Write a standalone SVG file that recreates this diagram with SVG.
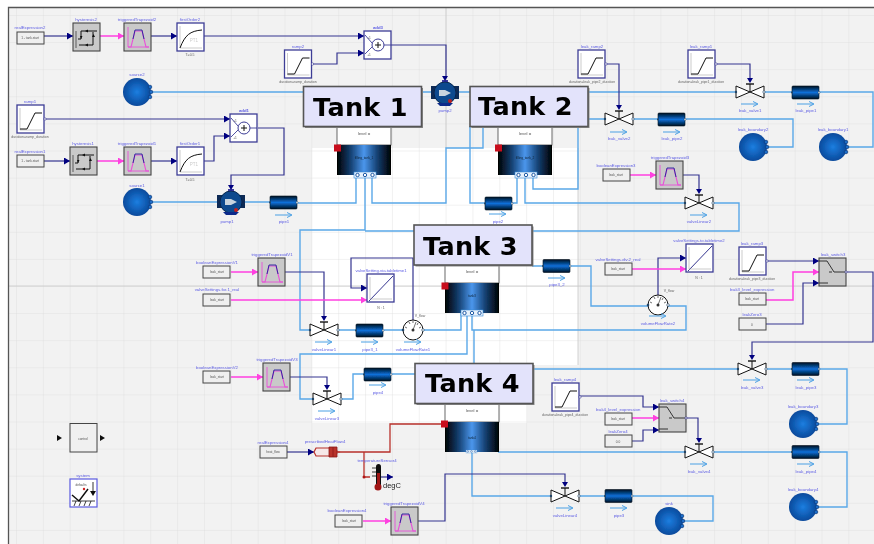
<svg xmlns="http://www.w3.org/2000/svg" width="874" height="544" viewBox="0 0 874 544">
<style>
text{font-family:"Liberation Sans",Arial,sans-serif}
.l{fill:#5c5ce4;font-size:4.300px;text-anchor:middle}
.s{fill:#666;font-size:3.500px;text-anchor:middle}
.v{fill:#555;font-size:3.200px;text-anchor:middle}
.t{fill:#000;font-family:"DejaVu Sans",Verdana,sans-serif;font-weight:bold;font-size:25.500px;letter-spacing:.3px}
.lab{fill:#e3e3fb;stroke:#555;stroke-width:1.6}
.shd{fill:#8a8a8a}
.f{fill:none;stroke:#5aa8e8;stroke-width:1.4}
.sig{fill:none;stroke:#34348f;stroke-width:1.2;marker-end:url(#hn)}
.sn{fill:none;stroke:#34348f;stroke-width:1.2}
.p{fill:none;stroke:#ff3fe0;stroke-width:1.5;marker-end:url(#hp)}
.h{fill:none;stroke:#b8302a;stroke-width:1.3}
.box{fill:#fff;stroke:#3c3c96;stroke-width:1.3}
.gb{fill:#c9c9c9;stroke:#444;stroke-width:1.1}
.ex{fill:#efefef;stroke:#444;stroke-width:1}
</style>
<defs>
<pattern id="grid" width="26.85" height="27.1" patternUnits="userSpaceOnUse" x="16" y="15">
<path d="M0,0V27.1M0,0H26.85" fill="none" stroke="#dedede" stroke-width=".8"/>
</pattern>
<filter id="soft" x="0" y="0" width="100%" height="100%"><feGaussianBlur stdDeviation=".3"/></filter>
<marker id="hn" markerUnits="userSpaceOnUse" markerWidth="7" markerHeight="7" refX="6" refY="3.500" orient="auto"><path d="M0,0L6,3.500L0,7Z" fill="#000080"/></marker>
<marker id="hp" markerUnits="userSpaceOnUse" markerWidth="7" markerHeight="7" refX="6" refY="3.500" orient="auto"><path d="M0,0L6,3.500L0,7Z" fill="#ff3fe0"/></marker>
<linearGradient id="pg" x1="0" y1="0" x2="0" y2="1"><stop offset="0" stop-color="#001020"/><stop offset=".5" stop-color="#0a6fd8"/><stop offset="1" stop-color="#001020"/></linearGradient>
<linearGradient id="tg" x1="0" y1="0" x2="1" y2="0"><stop offset="0" stop-color="#000"/><stop offset=".25" stop-color="#143f70"/><stop offset=".5" stop-color="#4a96ec"/><stop offset=".75" stop-color="#143f70"/><stop offset="1" stop-color="#000"/></linearGradient>
<radialGradient id="bg"><stop offset="0" stop-color="#1c7ee0"/><stop offset="1" stop-color="#0a4a9c"/></radialGradient>
<g id="ramp"><rect class="box" width="27" height="28"/><path d="M3,3V25H25" fill="none" stroke="#aaa" stroke-width=".6"/><path d="M3,24H10L18,8H25" fill="none" stroke="#111" stroke-width="1"/><circle cx="28" cy="14" r="1.200" fill="#fff" stroke="#34348f" stroke-width=".6"/></g>
<g id="first"><rect class="box" width="27" height="28"/><path d="M3,3V25H25" fill="none" stroke="#aaa" stroke-width=".6"/><path d="M3,25C8,12 13,8 25,7" fill="none" stroke="#111" stroke-width="1"/><text x="17" y="19" font-size="4.500" fill="#ccc" text-anchor="middle">PT1</text></g>
<g id="trap"><rect class="gb" width="27" height="28"/><path d="M4,4V24H25" fill="none" stroke="#e850d8" stroke-width=".9"/><path d="M4,24H7L11,8H18L22,24H25" fill="none" stroke="#e850d8" stroke-width="1.100"/><path d="M9,16L11,7H18L20,16" fill="none" stroke="#20209a" stroke-width=".9"/></g>
<g id="hyst"><rect class="gb" width="27" height="28"/><path d="M5,16H8V8H24M6,22H20V9" fill="none" stroke="#111" stroke-width="1"/><path d="M3,8V25" stroke="#111" stroke-width=".6"/><path d="M12,8l3,-1.500v3zM12,22l3,-1.500v3zM7,13l1,3 1.500,-3zM19,14l1.500,-3 1.500,3z" fill="#111"/></g>
<g id="add"><rect class="box" width="27" height="28"/><path d="M1,4L8,12M1,23L8,16M20,14H27" stroke="#3c3c96" stroke-width=".9"/><circle cx="14" cy="14" r="6" fill="#fff" stroke="#3c3c96" stroke-width="1"/><path d="M11,14H17M14,11V17" stroke="#111" stroke-width="1"/><text x="5" y="8" class="v">+1</text><text x="5" y="25" class="v">+1</text></g>
<rect id="ex" class="ex" width="27" height="12"/>
<g id="table"><rect class="box" width="27" height="28"/><path d="M2,27L26,2" stroke="#34348f" stroke-width="1"/><path d="M3,3V25H25" fill="none" stroke="#aaa" stroke-width=".6"/></g>
<g id="valve"><path d="M-14,-6L0,0L-14,6ZM14,-6L0,0L14,6Z" fill="#fff" stroke="#111" stroke-width="1"/><path d="M0,0V-8" stroke="#111" stroke-width="1"/><path d="M-4,-8H4" stroke="#111" stroke-width="1.400"/><path d="M-3,-14H3L0,-9Z" fill="#000080"/><circle cx="-14" cy="0" r="1.200" fill="#246"/><circle cx="14" cy="0" r="1.200" fill="#fff" stroke="#246" stroke-width=".6"/></g>
<g id="pipe"><rect width="27" height="13" rx="1" fill="url(#pg)" stroke="#001020" stroke-width=".6"/><circle cx="27" cy="6.500" r="1" fill="#fff" stroke="#246" stroke-width=".5"/><circle cx="0" cy="6.500" r="1" fill="#246"/></g>
<g id="bound"><circle r="14" fill="url(#bg)"/><g fill="#1c6cc8" stroke="#0a3a7a" stroke-width=".7"><circle cx="13" cy="-5" r="1.800"/><circle cx="14" cy="0" r="1.800"/><circle cx="13" cy="5" r="1.800"/></g></g>
<g id="pump"><rect x="-14" y="-7" width="28" height="13" fill="#0b2a55"/><circle r="11" fill="#0c4a8e" stroke="#06264e" stroke-width="1"/><path d="M-6,-3H0L6,0L0,3H-6Z" fill="#c8d4de"/><path d="M-8,10H8L5,13H-5Z" fill="#0a2a8a"/><circle cx="5" cy="8" r="2" fill="#c02020"/><path d="M-3,-17H3L0,-12Z" fill="#000080"/><path d="M-3,-12H3" stroke="#000080" stroke-width="1.500"/></g>
<g id="tank"><rect width="54" height="19" fill="#fff" stroke="#444" stroke-width=".8"/><text x="27" y="9" class="v" style="font-size:4.300px">level =</text><rect y="19" width="54" height="30" fill="url(#tg)"/></g>
<g id="flow"><path d="M-9,0H7" stroke="#4aa0e4" stroke-width="1"/><path d="M3,-2.500L8,0L3,2.500" fill="none" stroke="#4aa0e4" stroke-width="1"/></g>
<g id="switch"><rect class="gb" width="27" height="28"/><path d="M0,3H8L15,14H27M0,25H9M10,14H13" fill="none" stroke="#333" stroke-width="1"/><circle cx="27" cy="14" r="1.100" fill="#fff" stroke="#34348f" stroke-width=".6"/></g>
<g id="sens"><circle r="10" fill="#fff" stroke="#111" stroke-width="1"/><path d="M0,0L3,-8M-8,-3L-6,-2M-4,-8L-3,-6M0,-9V-7M5,-7L4,-5M8,-3L6,-2" stroke="#333" stroke-width=".7"/><circle r="1.500" fill="#333"/><circle cx="-10" r="1.300" fill="#246"/><circle cx="10" r="1.300" fill="#fff" stroke="#246" stroke-width=".6"/></g>
<g id="ports"><rect width="22" height="6" fill="#e8f2fc" stroke="#3a8ad8" stroke-width=".6"/><g fill="#fff" stroke="#0a4a9c" stroke-width=".9"><circle cx="3.500" cy="3" r="1.700"/><circle cx="11" cy="3" r="1.700"/><circle cx="18.500" cy="3" r="1.700"/></g></g>
<rect id="red" x="-3.500" y="-3.500" width="7" height="7" fill="#c8101c"/>
</defs>
<g filter="url(#soft)">
<rect width="874" height="544" fill="#fff"/>
<rect x="9" y="8" width="865" height="536" fill="#f2f2f2"/>
<path d="M312,148H578V365H527V423H312Z" fill="#fff"/>
<rect x="9" y="8" width="865" height="536" fill="url(#grid)"/>
<path d="M9,286H874M446,8V148M578,148V365" fill="none" stroke="#c8c8c8" stroke-width=".8"/>
<path d="M8.500,544V7.500H874" fill="none" stroke="#555" stroke-width="1.300"/>

<g id="connectors">
<path class="f" d="M151,92H431M459,92H735M764,92H792M819,92H873V147H847"/>
<path class="f" d="M151,202H217M245,202H270M298,203H356V175M372,175V203H446V148H483V126"/>
<path class="f" d="M365,175V230H300V330H311M470,126V203H485M512,203H517V175M525,175V203H686M713,203H739V231H365"/>
<path class="f" d="M578,126V189H533V175M588,119H605M632,119H658M686,119H793V147H767"/>
<path class="f" d="M338,330H356M384,330H403M423,330H461V313M467,313V354H300V399H313M472,313V330H686V306H668M474,330V363M341,399H353V374H364M392,374H415"/>
<path class="f" d="M532,266H543M571,266H591V306H648"/>
<path class="f" d="M533,369H739M766,369H792M819,369H847V424H817"/>
<path class="f" d="M498,452H686M713,452H792M819,452H847V507H817M472,453V496H552M579,496H605M632,496H713V521H683"/>
<path class="sig" d="M44,36H73"/><path class="sig" d="M150,36H177"/><path class="sig" d="M203,36H364"/>
<path class="sig" d="M311,64H337V53H364"/><path class="sn" d="M391,45H446V76"/>
<path class="sig" d="M44,119H230"/><path class="sig" d="M44,161H70"/><path class="sig" d="M150,161H177"/>
<path class="sig" d="M203,161H214V136H230"/><path class="sn" d="M258,128H284V175H231V186"/>
<path class="sn" d="M606,64H619V106"/><path class="sn" d="M715,64H750V80"/><path class="sn" d="M683,175H699V190"/>
<path class="sn" d="M285,272H324V317"/><path class="sig" d="M413,320V258H351V288H367"/>
<path class="sn" d="M290,377H327V386"/>
<path class="sig" d="M658,295V258H686"/><path class="sig" d="M766,261H819"/><path class="sig" d="M766,324H803V283H819"/>
<path class="sn" d="M847,272H873V342H752V356"/>
<path class="sig" d="M578,396H643V407H659"/><path class="sig" d="M632,441H643V430H659"/><path class="sn" d="M686,418H698V439"/>
<path class="sn" d="M418,521H445V474H565V483"/>
<path class="sig" d="M287,452H314"/>
<path class="sig" d="M378,477H393"/>
<path class="p" d="M99,36H124"/><path class="p" d="M97,161H124"/>
<path class="p" d="M630,175H656"/><path class="p" d="M231,272H258"/><path class="p" d="M231,300H367"/>
<path class="p" d="M231,377H263"/><path class="p" d="M632,269H686"/><path class="p" d="M766,300H793V272H819"/>
<path class="p" d="M632,418H659"/><path class="p" d="M363,521H391"/>
<path class="h" d="M339,452H390V424H445M364,452V477H370"/>
</g>

<g id="realExpression2"><use href="#ex" x="17" y="32"/><text x="30" y="39" class="v">1 - tank.start</text><text x="30" y="29" class="l">realExpression2</text></g>
<g id="hysteresis2"><use href="#hyst" x="73" y="23"/><text x="86" y="21" class="l">hysteresis2</text></g>
<g id="triggeredTrapezoid2"><use href="#trap" x="124" y="23"/><text x="137" y="21" class="l">triggeredTrapezoid2</text></g>
<g id="firstOrder2"><use href="#first" x="177" y="23"/><text x="190" y="21" class="l">firstOrder2</text><text x="190" y="56" class="s">T=0.5</text></g>
<g id="ramp2"><use href="#ramp" x="284.500" y="50"/><text x="298" y="48" class="l">ramp2</text><text x="298" y="83" class="s">duration=ramp_duration</text></g>
<g id="add3"><use href="#add" x="364" y="31"/><text x="378" y="29" class="l" style="font-weight:bold">add3</text></g>
<g id="source2"><use href="#bound" x="137" y="92"/><text x="137" y="76" class="l">source2</text></g>
<g id="ramp1"><use href="#ramp" x="17" y="105"/><text x="30" y="103" class="l">ramp1</text><text x="30" y="138" class="s">duration=ramp_duration</text></g>
<g id="add1"><use href="#add" x="230" y="114"/><text x="244" y="112" class="l" style="font-weight:bold">add1</text></g>
<g id="realExpression1"><use href="#ex" x="17" y="155"/><text x="30" y="162" class="v">1 - tank.start</text><text x="30" y="153" class="l">realExpression1</text></g>
<g id="hysteresis1"><use href="#hyst" x="70" y="147"/><text x="83" y="145" class="l">hysteresis1</text></g>
<g id="triggeredTrapezoid1"><use href="#trap" x="124" y="147"/><text x="137" y="145" class="l">triggeredTrapezoid1</text></g>
<g id="firstOrder1"><use href="#first" x="177" y="147"/><text x="190" y="145" class="l">firstOrder1</text><text x="190" y="181" class="s">T=0.5</text></g>
<g id="source1"><use href="#bound" x="137" y="202"/><text x="137" y="187" class="l">source1</text></g>
<g id="pump1"><use href="#pump" x="231" y="202"/><text x="227" y="223" class="l">pump1</text></g>
<g id="pipe1"><use href="#pipe" x="270" y="196"/><use href="#flow" x="284" y="215"/><text x="284" y="223" class="l">pipe1</text></g>
<g id="pump2"><use href="#pump" x="445" y="93"/><text x="445" y="112" class="l">pump2</text></g>

<g id="filling_tank_1"><use href="#tank" x="337" y="126"/><use href="#red" x="337.500" y="148"/><text x="364" y="159" class="v" style="fill:#123">filling_tank_1</text><use href="#ports" x="354" y="172"/></g>
<g id="filling_tank_2"><use href="#tank" x="498" y="126"/><use href="#red" x="498.500" y="148"/><text x="525" y="159" class="v" style="fill:#123">filling_tank_2</text><use href="#ports" x="515" y="172"/></g>
<g id="tank3"><use href="#tank" x="445" y="264"/><use href="#red" x="445" y="286"/><text x="472" y="297" class="v" style="fill:#123">tank3</text><use href="#ports" x="461" y="310"/></g>
<g id="tank4"><use href="#tank" x="445" y="403"/><use href="#red" x="444.500" y="424"/><text x="472" y="439" class="v" style="fill:#123">tank4</text><use href="#ports" transform="translate(466,450) scale(.5)"/></g>

<g id="leak_ramp2"><use href="#ramp" x="578" y="50"/><text x="592" y="48" class="l">leak_ramp2</text><text x="592" y="83" class="s">duration=leak_pipe2_duration</text></g>
<g id="leak_ramp1"><use href="#ramp" x="688" y="50"/><text x="701" y="48" class="l">leak_ramp1</text><text x="701" y="83" class="s">duration=leak_pipe1_duration</text></g>
<g id="leak_valve1"><use href="#valve" x="750" y="92"/><use href="#flow" x="750" y="104"/><text x="750" y="112" class="l">leak_valve1</text></g>
<g id="leak_pipe1"><use href="#pipe" x="792" y="86"/><use href="#flow" x="806" y="104"/><text x="806" y="112" class="l">leak_pipe1</text></g>
<g id="leak_valve2"><use href="#valve" x="619" y="119"/><use href="#flow" x="619" y="132"/><text x="619" y="140" class="l">leak_valve2</text></g>
<g id="leak_pipe2"><use href="#pipe" x="658" y="113"/><use href="#flow" x="672" y="132"/><text x="672" y="140" class="l">leak_pipe2</text></g>
<g id="leak_boundary2"><use href="#bound" x="753" y="147"/><text x="753" y="131" class="l">leak_boundary2</text></g>
<g id="leak_boundary1"><use href="#bound" x="833" y="147"/><text x="833" y="131" class="l">leak_boundary1</text></g>
<g id="booleanExpression3"><use href="#ex" x="603" y="169"/><text x="616" y="176" class="v">leak_start</text><text x="616" y="167" class="l">booleanExpression3</text></g>
<g id="triggeredTrapezoid3"><use href="#trap" x="656" y="161"/><text x="670" y="159" class="l">triggeredTrapezoid3</text></g>
<g id="valveLinear2"><use href="#valve" x="699" y="203"/><use href="#flow" x="699" y="215"/><text x="699" y="223" class="l">valveLinear2</text></g>
<g id="pipe2"><use href="#pipe" x="485" y="197"/><use href="#flow" x="498" y="214"/><text x="498" y="223" class="l">pipe2</text></g>

<g id="booleanExpressionV1"><use href="#ex" x="203" y="266"/><text x="217" y="273" class="v">leak_start</text><text x="217" y="264" class="l">booleanExpressionV1</text></g>
<g id="triggeredTrapezoidV1"><use href="#trap" x="258" y="258"/><text x="272" y="256" class="l">triggeredTrapezoidV1</text></g>
<g id="volumeFlow_1"><use href="#ex" x="203" y="294"/><text x="217" y="301" class="v">leak_start</text><text x="217" y="291" class="l">valveSettings.for.1_real</text></g>
<g id="table1"><use href="#table" x="367" y="274"/><text x="381" y="272" class="l">valveSetting.via.tabletime1</text><text x="381" y="309" class="s">N : 1</text></g>
<g id="valveLinear1"><use href="#valve" x="324" y="330"/><use href="#flow" x="324" y="342"/><text x="324" y="351" class="l">valveLinear1</text></g>
<g id="pipe3_1"><use href="#pipe" x="356" y="324"/><use href="#flow" x="370" y="342"/><text x="370" y="351" class="l">pipe3_1</text></g>
<g id="volumeFlowRate1"><use href="#sens" x="413" y="330"/><text x="420" y="317" class="s">V_flow</text><use href="#flow" x="413" y="342"/><text x="413" y="351" class="l">volumeFlowRate1</text></g>
<g id="booleanExpressionV2"><use href="#ex" x="203" y="371"/><text x="217" y="378" class="v">leak_start</text><text x="217" y="369" class="l">booleanExpressionV2</text></g>
<g id="triggeredTrapezoidV3"><use href="#trap" x="263" y="363"/><text x="277" y="361" class="l">triggeredTrapezoidV3</text></g>
<g id="valveLinear3"><use href="#valve" x="327" y="399"/><use href="#flow" x="327" y="411"/><text x="327" y="420" class="l">valveLinear3</text></g>
<g id="pipe4"><use href="#pipe" x="364" y="368"/><use href="#flow" x="378" y="385"/><text x="378" y="394" class="l">pipe4</text></g>

<g id="pipe3_2"><use href="#pipe" x="543" y="259.500"/><use href="#flow" x="557" y="278"/><text x="557" y="286" class="l">pipe3_2</text></g>
<g id="volumeSetting"><use href="#ex" x="605" y="263"/><text x="618" y="270" class="v">leak_start</text><text x="618" y="261" class="l">valveSettings.div.2_real</text></g>
<g id="table2"><use href="#table" x="686" y="244"/><text x="699" y="242" class="l">valveSettings.to.tabletime2</text><text x="699" y="279" class="s">N : 1</text></g>
<g id="volumeFlowRate2"><use href="#sens" x="658" y="305"/><text x="669" y="292" class="s">V_flow</text><use href="#flow" x="658" y="316"/><text x="658" y="325" class="l">volumeFlowRate2</text></g>
<g id="leak_ramp3"><use href="#ramp" x="739" y="247"/><text x="752" y="245" class="l">leak_ramp3</text><text x="752" y="280" class="s">duration=leak_pipe3_duration</text></g>
<g id="leak3_expr"><use href="#ex" x="739" y="293"/><text x="752" y="300" class="v">leak_start</text><text x="752" y="291" class="l">leak3_level_expression</text></g>
<g id="leakZero3"><use href="#ex" x="739" y="318"/><text x="752" y="326" class="v">0</text><text x="752" y="316" class="l">leakZero3</text></g>
<g id="leak_switch3"><use href="#switch" x="819" y="258"/><text x="833" y="256" class="l">leak_switch3</text></g>
<g id="leak_valve3"><use href="#valve" x="752" y="369"/><use href="#flow" x="752" y="380"/><text x="752" y="389" class="l">leak_valve3</text></g>
<g id="leak_pipe3"><use href="#pipe" x="792" y="362.500"/><use href="#flow" x="806" y="380"/><text x="806" y="389" class="l">leak_pipe3</text></g>
<g id="leak_boundary3"><use href="#bound" x="803" y="424"/><text x="803" y="408" class="l">leak_boundary3</text></g>
<g id="leak_ramp4"><use href="#ramp" x="552" y="383"/><text x="565" y="381" class="l">leak_ramp4</text><text x="565" y="416" class="s">duration=leak_pipe4_duration</text></g>
<g id="leak4_expr"><use href="#ex" x="605" y="413"/><text x="618" y="420" class="v">leak_start</text><text x="618" y="411" class="l">leak4_level_expression</text></g>
<g id="leakZero4"><use href="#ex" x="605" y="435"/><text x="618" y="443" class="v">0.0</text><text x="618" y="433" class="l">leakZero4</text></g>
<g id="leak_switch4"><use href="#switch" x="659" y="404"/><text x="672" y="402" class="l">leak_switch4</text></g>
<g id="leak_valve4"><use href="#valve" x="699" y="452"/><use href="#flow" x="699" y="464"/><text x="699" y="473" class="l">leak_valve4</text></g>
<g id="leak_pipe4"><use href="#pipe" x="792" y="445.500"/><use href="#flow" x="806" y="464"/><text x="806" y="473" class="l">leak_pipe4</text></g>
<g id="leak_boundary4"><use href="#bound" x="803" y="507"/><text x="803" y="491" class="l">leak_boundary4</text></g>
<g id="valveLinear4"><use href="#valve" x="565" y="496"/><use href="#flow" x="565" y="508"/><text x="565" y="517" class="l">valveLinear4</text></g>
<g id="pipe3"><use href="#pipe" x="605" y="489.500"/><use href="#flow" x="619" y="508"/><text x="619" y="517" class="l">pipe3</text></g>
<g id="sink"><use href="#bound" x="669" y="521"/><text x="669" y="505" class="l">sink</text></g>

<g id="control"><rect x="70" y="423.500" width="27" height="28.500" class="ex" style="fill:#f0f0f0"/><text x="83" y="440" class="v">control</text><path d="M57,435L62,438L57,441ZM100,435L105,438L100,441Z" fill="#111"/></g>
<g id="system"><rect x="70" y="479" width="27" height="28" fill="#fff" stroke="#5a5ae0" stroke-width="1.200"/><text x="83" y="477" class="l">system</text><text x="81" y="486" class="v">defaults</text><path d="M72,495L79,501L88,489" fill="none" stroke="#111" stroke-width="1.500"/><circle cx="84" cy="489" r="1.200" fill="#d02020"/><path d="M93,482V492" stroke="#777" stroke-width="1.500"/><path d="M90,491H96L93,496Z" fill="#111"/><path d="M72,501H95M74,506l2,-5M79,506l2,-5M84,506l2,-5M89,506l2,-5" stroke="#111" stroke-width=".8"/></g>
<g id="realExpression4"><use href="#ex" x="260" y="446"/><text x="273" y="453" class="v">heat_flow</text><text x="273" y="444" class="l">realExpression4</text></g>
<g id="prescribedHeatFlow4"><path d="M316,448H330L339,452L330,456H316L314,452Z" fill="#f6e8e8" stroke="#b8302a" stroke-width="1.200"/><path d="M329,447H337V457H329ZM333,447V457" fill="#b8302a" stroke="#8a1a1a" stroke-width=".8"/><text x="325" y="443" class="l">prescribedHeatFlow4</text></g>
<g id="temperatureSensor4"><rect x="376" y="464" width="5" height="24" rx="2.500" fill="#111"/><rect x="377" y="473" width="3" height="14" fill="#a01818"/><circle cx="378" cy="487" r="3.500" fill="#a01818"/><path d="M372,468h4M372,472h4M372,476h4" stroke="#111" stroke-width=".8"/><circle cx="364" cy="477" r="1.500" fill="#b01818"/><text x="377" y="462" class="l">temperatureSensor4</text><text x="383" y="488" style="font-size:7.500px;fill:#222">degC</text></g>
<g id="booleanExpression4"><use href="#ex" x="335" y="515"/><text x="349" y="522" class="v">leak_start</text><text x="347" y="512" class="l">booleanExpression4</text></g>
<g id="triggeredTrapezoidV4"><use href="#trap" x="391" y="507"/><text x="404" y="505" class="l">triggeredTrapezoidV4</text></g>

<g id="label_tank1"><rect class="shd" x="305" y="88" width="118" height="40"/><rect class="lab" x="303.500" y="86.500" width="118" height="40"/><text class="t" x="313" y="116">Tank 1</text></g>
<g id="label_tank2"><rect class="shd" x="471.500" y="88" width="118" height="40"/><rect class="lab" x="470" y="86.500" width="118" height="40"/><text class="t" x="478" y="115">Tank 2</text></g>
<g id="label_tank3"><rect class="shd" x="415.500" y="226.500" width="118" height="40"/><rect class="lab" x="414" y="225" width="118" height="40"/><text class="t" x="423" y="255">Tank 3</text></g>
<g id="label_tank4"><rect class="shd" x="416.500" y="365" width="118" height="40"/><rect class="lab" x="415" y="363.500" width="118" height="40"/><text class="t" x="425" y="392">Tank 4</text></g>
</g>
</svg>
